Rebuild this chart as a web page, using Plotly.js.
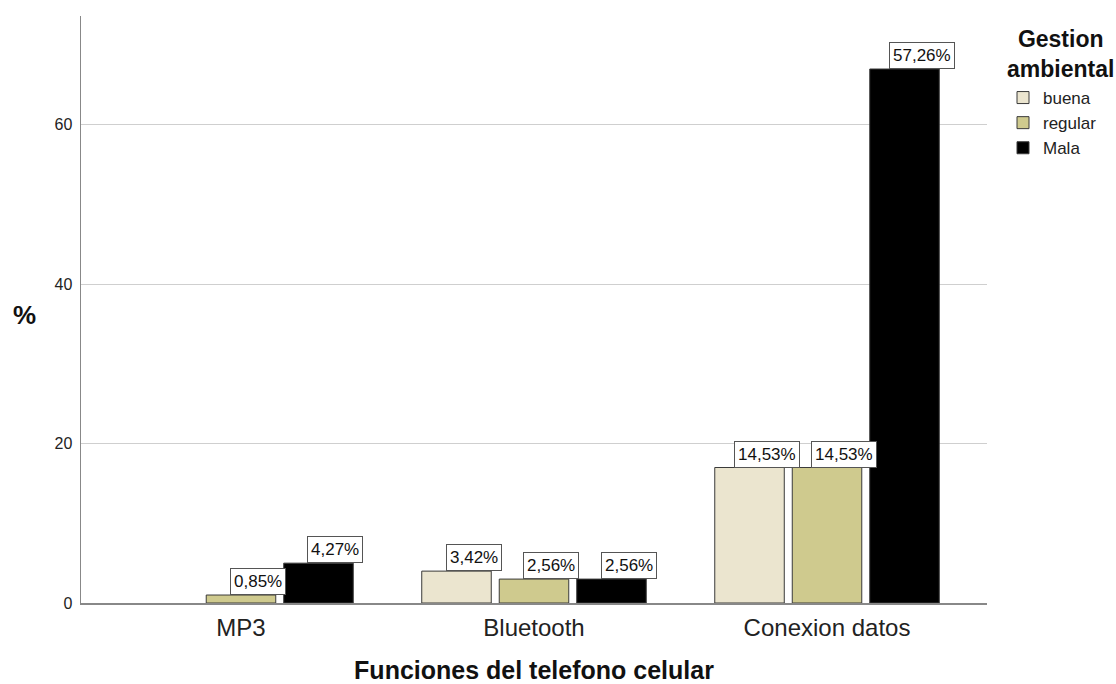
<!DOCTYPE html>
<html>
<head>
<meta charset="utf-8">
<script src="https://cdn.plot.ly/plotly-3.0.1.min.js"></script>
<style>html,body{margin:0;padding:0;background:#fff;}#chart{width:1116px;height:684px;}</style>
</head>
<body>
<div id="chart"></div>
<script>
const categories = ['MP3', 'Bluetooth', 'Conexion datos'];
const seriesNames = ['buena', 'regular', 'Mala'];
const buena = [null, 4, 17];
const regular = [1, 3, 17];
const mala = [5, 3, 67];
const yTicks = [0, 20, 40, 60];
const xTitle = 'Funciones del telefono celular';
const yTitle = '%';
const legendTitle = ['Gestion', 'ambiental'];

const seriesValues = [buena, regular, mala];
const colors = ['#ebe5cf', '#cfca8e', '#000000'];
const FONT = 'Liberation Sans, Arial, sans-serif';
const bargap = 0.2065;

const total = seriesValues.flat().reduce((a, v) => a + (v || 0), 0);
const fmt = v => (v / total * 100).toFixed(2).replace('.', ',') + '%';

const traces = seriesValues.map((vals, si) => ({
  type: 'bar',
  name: seriesNames[si],
  x: categories,
  y: vals,
  marker: {color: colors[si], line: {color: '#3a3a3a', width: 1}},
  hoverinfo: 'skip'
}));

const annotations = [];
const slot = (1 - bargap) / 3;
seriesValues.forEach((vals, si) => {
  vals.forEach((v, ci) => {
    if (v === null || v === undefined) return;
    annotations.push({
      x: ci + (si - 1) * slot, y: v, xref: 'x', yref: 'y',
      text: fmt(v), showarrow: false,
      xanchor: 'center', yanchor: 'bottom', xshift: 17, yshift: 0,
      font: {family: FONT, size: 17, color: '#111'},
      bgcolor: '#ffffff', bordercolor: '#555', borderwidth: 1, borderpad: 3
    });
  });
});

annotations.push({
  xref: 'paper', yref: 'paper', x: -0.062, y: 0.49, text: '<b>' + yTitle + '</b>',
  showarrow: false, xanchor: 'center', yanchor: 'middle',
  font: {family: FONT, size: 26, color: '#111'}
});
annotations.push({
  xref: 'paper', yref: 'paper', x: 1.081, y: (603 - 24) / 587,
  text: '<b>' + legendTitle.join('<br>') + '</b>',
  showarrow: false, xanchor: 'center', yanchor: 'top', align: 'center',
  font: {family: FONT, size: 23, color: '#111'}
});

const layout = {
  width: 1116, height: 684,
  margin: {l: 81, r: 129, t: 16, b: 81},
  paper_bgcolor: '#ffffff', plot_bgcolor: '#ffffff',
  barmode: 'group', bargap: bargap, bargroupgap: 0.103,
  font: {family: FONT, color: '#222'},
  showlegend: true,
  legend: {
    x: (1003 - 81) / 906, y: (603 - 80) / 587, xanchor: 'left', yanchor: 'top',
    font: {family: FONT, size: 17, color: '#222'},
    tracegroupgap: 0, bgcolor: 'rgba(0,0,0,0)'
  },
  xaxis: {
    type: 'category', range: [-0.546, 2.546],
    showline: true, linecolor: '#888', linewidth: 1.5, ticks: '',
    showgrid: false, zeroline: false,
    tickfont: {family: FONT, size: 24, color: '#222'},
    ticklabelstandoff: 3,
    title: {text: '<b>' + xTitle + '</b>', font: {family: FONT, size: 25, color: '#111'}, standoff: 24}
  },
  yaxis: {
    range: [0, 73.65], tickvals: yTicks, ticktext: yTicks.map(String),
    showline: true, linecolor: '#888', linewidth: 1.5, ticks: '',
    showgrid: true, gridcolor: '#cfcfcf', gridwidth: 1, zeroline: false,
    tickfont: {family: FONT, size: 16, color: '#222'},
    ticklabelstandoff: 4
  },
  annotations: annotations
};

Plotly.newPlot('chart', traces, layout, {displayModeBar: false, staticPlot: true});
</script>
</body>
</html>
